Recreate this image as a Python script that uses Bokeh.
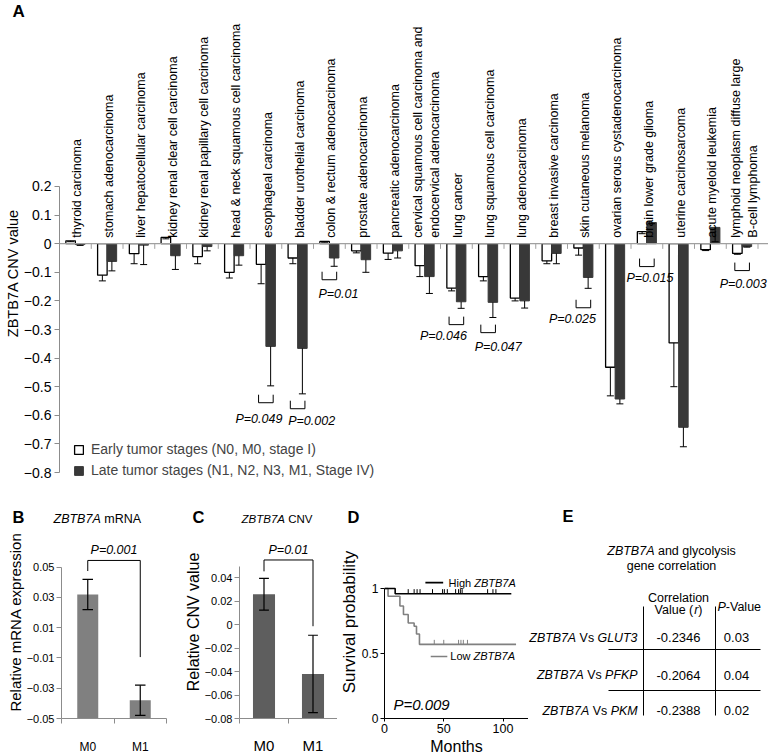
import math
from bokeh.plotting import figure
from bokeh.models import Range1d, LinearAxis, FixedTicker, Span, Label, Legend, LegendItem, Title
from bokeh.layouts import column, row
from bokeh.embed import file_html
from bokeh.resources import INLINE
from bokeh.core.properties import value

FONT = "Liberation Sans"

# ---------------- data: panel A ----------------
categories = [
    "thyroid carcinoma",
    "stomach adenocarcinoma",
    "liver hepatocellular carcinoma",
    "kidney renal clear cell carcinoma",
    "kidney renal papillary cell carcinoma",
    "head & neck squamous cell carcinoma",
    "esophageal carcinoma",
    "bladder urothelial carcinoma",
    "colon & rectum adenocarcinoma",
    "prostate adenocarcinoma",
    "pancreatic adenocarcinoma",
    "cervical squamous cell carcinoma and\nendocervical adenocarcinoma",
    "lung cancer",
    "lung squamous cell carcinoma",
    "lung adenocarcinoma",
    "breast invasive carcinoma",
    "skin cutaneous melanoma",
    "ovarian serous cystadenocarcinoma",
    "brain lower grade glioma",
    "uterine carcinosarcoma",
    "acute myeloid leukemia",
    "lymphoid neoplasm diffuse large\nB-cell lymphoma",
]
early_cnv = [0.010, -0.110, -0.035, 0.022, -0.045, -0.100, -0.072, -0.050, 0.008, -0.025, -0.033,
             -0.077, -0.155, -0.115, -0.190, -0.060, -0.015, -0.432, 0.042, -0.347, -0.021, -0.034]
early_err = [0.003, 0.020, 0.035, 0.005, 0.025, 0.020, 0.068, 0.020, 0.003, 0.007, 0.022,
             0.038, 0.010, 0.015, 0.010, 0.010, 0.025, 0.100, 0.007, 0.153, 0.003, 0.003]
late_cnv = [-0.003, -0.062, -0.005, -0.042, -0.010, -0.042, -0.359, -0.366, -0.050, -0.056, -0.025,
            -0.115, -0.203, -0.205, -0.200, -0.034, -0.118, -0.543, 0.074, -0.642, 0.057, -0.010]
late_err = [0.003, 0.033, 0.068, 0.048, 0.015, 0.033, 0.138, 0.159, 0.029, 0.044, 0.025,
            0.059, 0.023, 0.053, 0.025, 0.036, 0.038, 0.017, 0.004, 0.068, 0.050, 0.002]
a_ticks = [0.2, 0.1, 0, -0.1, -0.2, -0.3, -0.4, -0.5, -0.6, -0.7, -0.8]
sig_index = [6, 7, 8, 12, 13, 16, 18, 21]
sig_text = ["P=0.049", "P=0.002", "P=0.01", "P=0.046", "P=0.047", "P=0.025", "P=0.015", "P=0.003"]
sig_level = [-0.556, -0.577, -0.126, -0.283, -0.311, -0.224, -0.080, -0.094]
legend_labels = ["Early tumor stages (N0, M0, stage I)", "Late tumor stages (N1, N2, N3, M1, Stage IV)"]

# ---------------- data: panels B, C ----------------
met_labels = ["M0", "M1"]
mrna_rel = [0.032, -0.038]
mrna_err = [0.010, 0.010]
mrna_p = "P=0.001"
b_ticks = [0.05, 0.03, 0.01, -0.01, -0.03, -0.05]
cnv_rel = [0.026, -0.042]
cnv_err = [0.0135, 0.033]
cnv_p = "P=0.01"
c_ticks = [0.04, 0.02, 0, -0.02, -0.04, -0.06, -0.08]

# ---------------- data: panel D ----------------
high_t = [0, 9, 107]
high_s = [1.0, 0.96, 0.96]
low_t = [0, 3, 13, 16, 20, 25, 27, 29.5, 111]
low_s = [1.0, 0.94, 0.865, 0.80, 0.735, 0.71, 0.65, 0.57, 0.57]
high_censor = [20, 25, 27.5, 30, 40.5, 49, 50.5, 53, 60, 62.5, 64, 65.5, 87, 91.5, 94]
low_censor = [42, 50, 62.5, 64.5, 66.5, 70]
km_p = "P=0.009"
d_xticks = [0, 50, 100]
d_yticks = [0, 0.5, 1]

# ---------------- data: panel E ----------------
genes = ["GLUT3", "PFKP", "PKM"]
corr_r = ["-0.2346", "-0.2064", "-0.2388"]
corr_p = ["0.03", "0.04", "0.02"]

# ---------------- text helpers ----------------
_W = {' ': 278, '!': 278, '&': 667, '(': 333, ')': 333, ',': 278, '-': 333, '.': 278, '=': 584,
      'A': 667, 'B': 667, 'C': 722, 'D': 722, 'E': 667, 'F': 611, 'G': 778, 'H': 722, 'I': 278,
      'J': 500, 'K': 667, 'L': 556, 'M': 833, 'N': 722, 'O': 778, 'P': 667, 'Q': 778, 'R': 722,
      'S': 667, 'T': 611, 'U': 722, 'V': 667, 'W': 944, 'X': 667, 'Y': 667, 'Z': 611,
      'a': 556, 'b': 556, 'c': 500, 'd': 556, 'e': 556, 'f': 278, 'g': 556, 'h': 556, 'i': 222,
      'j': 222, 'k': 500, 'l': 222, 'm': 833, 'n': 556, 'o': 556, 'p': 556, 'q': 556, 'r': 333,
      's': 500, 't': 278, 'u': 556, 'v': 500, 'w': 722, 'x': 500, 'y': 500, 'z': 500}


def tw(s, size):
    return sum(_W.get(c, 556) for c in s) / 1000.0 * size


def lab(p, x, y, text, size, dx=0, dy=0, align="left", baseline="middle", style="normal",
        color="black", angle=0, xr="default", yr="default"):
    p.add_layout(Label(x=x, y=y, x_offset=dx, y_offset=-dy, text=text, text_font=FONT,
                       text_font_size=f"{size}px", text_font_style=style, text_align=align,
                       text_baseline=baseline, text_color=color, angle=angle,
                       x_range_name=xr, y_range_name=yr))


def mixed(p, x, y, parts, size, align="left", dx=0, dy=0, baseline="middle", color="black",
          xr="default", yr="default"):
    total = sum(tw(t, size) for t, _ in parts)
    off = dx - (total / 2 if align == "center" else (total if align == "right" else 0))
    for t, it in parts:
        lead = len(t) - len(t.lstrip(" "))
        s = t.strip(" ")
        if s:
            lab(p, x, y, s, size, dx=off + tw(t[:lead], size), dy=dy, baseline=baseline,
                style="italic" if it else "normal", color=color, xr=xr, yr=yr)
        off += tw(t, size)


def base_fig(w, h, xr, yr, l, r, t, b):
    p = figure(width=w, height=h, x_range=xr, y_range=yr, output_backend="svg",
               toolbar_location=None, title=None, x_axis_location=None, y_axis_location=None,
               min_border_left=l, min_border_right=r, min_border_top=t, min_border_bottom=b)
    p.grid.visible = False
    p.outline_line_color = None
    try:
        p.frame_align = False      # keep every plot's own borders (no cross-plot alignment)
    except Exception:
        pass
    return p


def style_axis(ax, size, color, out=5, standoff=3):
    ax.major_label_text_font = FONT
    ax.major_label_text_font_size = f"{size}px"
    ax.major_label_text_color = "black"
    ax.axis_line_color = color
    ax.major_tick_line_color = color
    ax.minor_tick_line_color = color
    ax.major_tick_out = out
    ax.major_tick_in = 0
    ax.minor_tick_in = 0
    ax.minor_tick_out = 0
    ax.major_label_standoff = standoff


def side_title(p, text, size, side, shift_down=0.0):
    # titles are centred on the frame; trailing no-break spaces move the visible text down
    pad = int(round(2 * shift_down / tw(" ", size))) if shift_down > 0 else 0
    p.add_layout(Title(text=text + "\u00a0" * pad, align="center", standoff=0,
                       text_font=FONT, text_font_size=f"{size}px", text_font_style="normal",
                       text_color="black"), side)


# ================= strip with letter A (page y 0..22) =================
stripA = base_fig(768, 22, Range1d(0, 768), Range1d(22, 0), 0, 0, 0, 0)
lab(stripA, 12, 11, "A", 17, style="bold")

# ================= Panel A (page y 22..495) =================
nA = len(categories)
LEFT = 59
pA = base_fig(768, 473, Range1d(0, (768 - LEFT) / 31.75), Range1d(-0.8804, 0.7734), LEFT, 0, 0, 0)
yA = LinearAxis(bounds=(-0.8, 0.2), ticker=FixedTicker(ticks=a_ticks), major_label_overrides={0: "0"})
style_axis(yA, 14, "#8c8c8c", out=5, standoff=3)
pA.add_layout(yA, "left")
side_title(pA, "ZBTB7A CNV value", 14.5, "left", 272 - (22 + 495) / 2)
pA.add_layout(Span(location=0, dimension="width", line_color="#a0a0a0", line_width=1.2))
bounds_x = list(range(nA + 1))
pA.segment(x0=bounds_x, y0=[0] * len(bounds_x), x1=bounds_x, y1=[-0.018] * len(bounds_x),
           line_color="#a0a0a0", line_width=1)

xc = [i + 0.5 for i in range(nA)]
xe = [x - 0.15 for x in xc]
xl = [x + 0.15 for x in xc]
r_early = pA.vbar(x=xe, width=0.3, bottom=0, top=early_cnv, fill_color="white",
                  line_color="black", line_width=1.3)
r_late = pA.vbar(x=xl, width=0.3, bottom=0, top=late_cnv, fill_color="#383838",
                 line_color="#383838", line_width=1)
for xs, vals, errs in ((xe, early_cnv, early_err), (xl, late_cnv, late_err)):
    lows = [v - e for v, e in zip(vals, errs)]
    pA.segment(x0=xs, y0=vals, x1=xs, y1=lows, line_color="black", line_width=1)
    pA.segment(x0=[x - 0.11 for x in xs], y0=lows, x1=[x + 0.11 for x in xs], y1=lows,
               line_color="black", line_width=1)

pA.text(x=xc, y=[0] * nA, text=categories, angle=math.pi / 2, text_align="left",
        text_baseline="middle", x_offset=2, y_offset=-6, text_font=value(FONT),
        text_font_size="12.5px", text_color="black", text_line_height=1.2)

bxs, bys = [], []
for i, lv in zip(sig_index, sig_level):
    c = i + 0.5
    bxs.append([c - 0.23, c - 0.23, c + 0.23, c + 0.23])
    bys.append([lv + 0.028, lv, lv, lv + 0.028])
pA.multi_line(xs=bxs, ys=bys, line_color="black", line_width=1)
sig_dx = [-7, 14, 9, -13, 10, -11, 3, 1]
sig_dy = [9, 5, 7, 4, 7, 4, 4, 6]
pA.text(x=[i + 0.5 for i in sig_index], y=sig_level, text=sig_text, x_offset=sig_dx,
        y_offset=sig_dy, text_align="center", text_baseline="top", text_font=value(FONT),
        text_font_size="12.5px", text_font_style="italic", text_color="black")

legA = Legend(items=[LegendItem(label=legend_labels[0], renderers=[r_early]),
                     LegendItem(label=legend_labels[1], renderers=[r_late])],
              location=(14, 16), glyph_width=11, glyph_height=11, label_height=18,
              label_standoff=7, spacing=3, padding=0, margin=0, border_line_color=None,
              background_fill_alpha=0, label_text_font=FONT, label_text_font_size="14px")
pA.add_layout(legA)

# ================= strip with letters / titles of B-E (page y 495..525) =================
stripB = base_fig(768, 30, Range1d(0, 768), Range1d(30, 0), 0, 0, 0, 0)
lab(stripB, 12, 21, "B", 16.5, style="bold")
mixed(stripB, 53, 23, [("ZBTB7A", True), (" mRNA", False)], 12.5)
lab(stripB, 192, 21, "C", 16.5, style="bold")
mixed(stripB, 241, 23, [("ZBTB7A", True), (" CNV", False)], 11.5)
lab(stripB, 347, 21, "D", 16.5, style="bold")
lab(stripB, 562, 20, "E", 16.5, style="bold")

# bottom row: page y 525..756, shared frame bottom at 718
HB, BB = 231, 38
FTOP, FBOT = 525, 718


def bar_panel(w, lborder, rborder, y0, ytop, ticks, vals, errs, color, bw,
              xsize, xstand, tsize, ylabel, ylab_size, ptext, br_top, br_ends):
    p = base_fig(w, HB, Range1d(0, 2), Range1d(y0, ytop), lborder, rborder, 0, BB)
    ya = LinearAxis(bounds=(y0, 0.05), ticker=FixedTicker(ticks=ticks),
                    major_label_overrides={0: "0"})
    style_axis(ya, tsize, "#8c8c8c", out=5, standoff=2)
    p.add_layout(ya, "left")
    side_title(p, ylabel, ylab_size, "left")
    xa = LinearAxis(bounds=(0, 2), ticker=FixedTicker(ticks=[0.5, 1.5], minor_ticks=[0, 1, 2]),
                    major_label_overrides={0.5: met_labels[0], 1.5: met_labels[1]})
    style_axis(xa, xsize, "#8c8c8c", out=0, standoff=xstand)
    xa.minor_tick_out = 5
    p.add_layout(xa, "below")
    xs = [0.5, 1.5]
    p.vbar(x=xs, width=bw, bottom=y0, top=vals, fill_color=color, line_color=None)
    lo = [v - e for v, e in zip(vals, errs)]
    hi = [v + e for v, e in zip(vals, errs)]
    p.segment(x0=xs, y0=lo, x1=xs, y1=hi, line_color="black", line_width=1.2)
    for yy in (lo, hi):
        p.segment(x0=[x - 0.1 for x in xs], y0=yy, x1=[x + 0.1 for x in xs], y1=yy,
                  line_color="black", line_width=1.2)
    p.line(x=[0.5, 0.5, 1.5, 1.5], y=[br_ends[0], br_top, br_top, br_ends[1]],
           line_color="black", line_width=1)
    p.text(x=[1.0], y=[br_top], text=[ptext], text_align="center", text_baseline="bottom",
           y_offset=-3, text_font=value(FONT), text_font_size="12.5px",
           text_font_style="italic", text_color="black")
    return p


pB = bar_panel(182, 61, 16, -0.05, 0.0776, b_ticks, mrna_rel, mrna_err, "#808080", 0.4,
               12, 16, 11, "Relative mRNA expression", 15, mrna_p, 0.0545,
               [0.0475, -0.0094])
pC = bar_panel(155, 51, 0, -0.08, 0.0846, c_ticks, cnv_rel, cnv_err, "#5e5e5e", 0.45,
               15, 13, 11, "Relative CNV value", 16, cnv_p, 0.0552,
               [0.0455, -0.0013])

# ================= Panel D (page x 337..528) =================
pD = base_fig(191, HB, Range1d(0, 121.5), Range1d(0, 1.4846), 44, 0, 0, BB)
xD = LinearAxis(bounds=(0, 121.5), ticker=FixedTicker(ticks=d_xticks))
style_axis(xD, 12.5, "black", out=3, standoff=2)
pD.add_layout(xD, "below")
side_title(pD, "Months", 16, "below")
yD = LinearAxis(bounds=(0, 1), ticker=FixedTicker(ticks=d_yticks),
                major_label_overrides={0: "0", 1: "1"})
style_axis(yD, 12, "black", out=4, standoff=2)
pD.add_layout(yD, "left")
side_title(pD, "Survival probability", 17, "left", 0)

pD.step(x=low_t, y=low_s, mode="after", line_color="#808080", line_width=1.6)
pD.step(x=high_t, y=high_s, mode="after", line_color="black", line_width=1.6)


def surv_at(ts, ss, t):
    s = ss[0]
    for ti, si in zip(ts, ss):
        if ti <= t:
            s = si
    return s


for cens, ts, ss, col in ((low_censor, low_t, low_s, "#808080"), (high_censor, high_t, high_s, "black")):
    yv = [surv_at(ts, ss, t) for t in cens]
    pD.segment(x0=cens, y0=yv, x1=cens, y1=[v + 0.035 for v in yv], line_color=col, line_width=1)

pD.line(x=[34.5, 49.5], y=[1.045, 1.045], line_color="black", line_width=1.6)
mixed(pD, 54, 1.045, [("High ", False), ("ZBTB7A", True)], 11)
pD.line(x=[39, 53], y=[0.477, 0.477], line_color="#808080", line_width=1.6)
mixed(pD, 55.5, 0.477, [("Low ", False), ("ZBTB7A", True)], 11)
lab(pD, 7.5, 0.108, km_p, 15, style="italic")

# ================= Panel E (page x 528..768), table in local layout units =================
pE = base_fig(240, HB, Range1d(-32, 208), Range1d(FBOT - 495, FTOP - 495), 0, 0, 0, BB)
mixed(pE, 111, 55, [("ZBTB7A", True), (" and glycolysis", False)], 12.5, align="center")
lab(pE, 111, 70, "gene correlation", 12.5, align="center")
lab(pE, 118, 102, "Correlation", 12.5, align="center")
mixed(pE, 118, 114.5, [("Value (", False), ("r", True), (")", False)], 12.5, align="center")
mixed(pE, 157, 111, [("P", True), ("-Value", False)], 12.5)
pE.segment(x0=[83, 155], y0=[111, 111], x1=[83, 155], y1=[220, 220], line_color="black",
           line_width=1)
pE.segment(x0=[48, 48], y0=[154, 195], x1=[200, 200], y1=[154, 195], line_color="black",
           line_width=1)
row_y = [142, 179.5, 215]
for g, r, pv, yy in zip(genes, corr_r, corr_p, row_y):
    mixed(pE, 77, yy, [("ZBTB7A", True), (" Vs ", False), (g, True)], 12.4, align="right")
    lab(pE, 118, yy, r, 13, align="center")
    lab(pE, 176, yy, pv, 13, align="center")

layout = column(row(stripA), row(pA), row(stripB), row(pB, pC, pD, pE))
open("out.html", "w").write(file_html(layout, INLINE))
